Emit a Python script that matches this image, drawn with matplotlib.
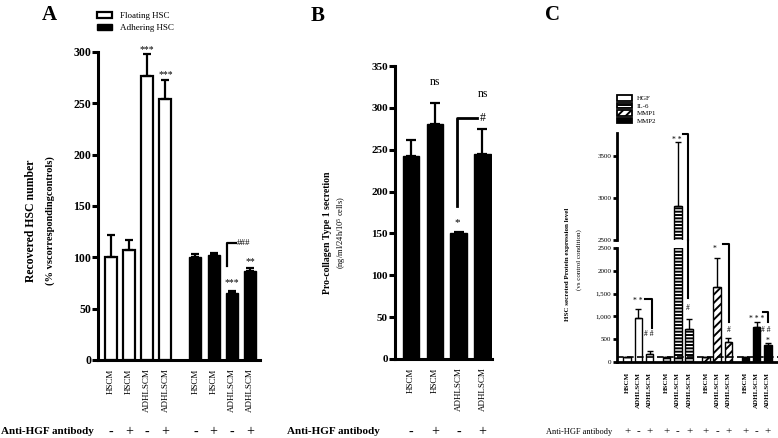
import numpy as np
import matplotlib
matplotlib.use('Agg')
import matplotlib.pyplot as plt
import matplotlib.patches as mpatches
from matplotlib.transforms import blended_transform_factory as btf

plt.rcParams['font.family'] = ['Liberation Serif', 'DejaVu Serif']
plt.rcParams['mathtext.default'] = 'regular'
plt.rcParams['hatch.linewidth'] = 1.4

# ---------------- data ----------------
# Panel A
a_labels = ['HSCM', 'HSCM', 'ADHLSCM', 'ADHLSCM']
a_signs = ['-', '+', '-', '+']
a_floating = [100, 107, 277, 254]
a_floating_err = [22, 10, 21, 19]
a_adhering = [100, 102, 65, 87]
a_adhering_err = [3, 2, 2.5, 2.5]
a_series = ['Floating HSC', 'Adhering HSC']

# Panel B
b_labels = ['HSCM', 'HSCM', 'ADHLSCM', 'ADHLSCM']
b_signs = ['-', '+', '-', '+']
b_values = [242, 281, 150, 245]
b_err = [20, 25, 1.5, 30]

# Panel C
c_labels = ['HSCM', 'ADHLSCM', 'ADHLSCM']
c_signs = ['+', '-', '+']
c_series = ['HGF', 'IL-6', 'MMP1', 'MMP2']
c_hgf = [100, 975, 170]
c_hgf_err = [20, 185, 80]
c_il6 = [100, 2900, 727]
c_il6_err = [20, 767, 220]
c_mmp1 = [100, 1652, 440]
c_mmp1_err = [20, 618, 88]
c_mmp2 = [100, 770, 370]
c_mmp2_err = [15, 110, 45]

# ---------------- figure ----------------
W, H = 778, 438
fig = plt.figure(figsize=(W / 100, H / 100), dpi=100)


def px_axes(x0, y0, x1, y1):
    return fig.add_axes([x0 / W, 1 - y1 / H, (x1 - x0) / W, (y1 - y0) / H])


def style(ax, lw=2.2, tl=4):
    for s in ['top', 'right']:
        ax.spines[s].set_visible(False)
    for s in ['left', 'bottom']:
        ax.spines[s].set_linewidth(lw)
    ax.tick_params(axis='y', direction='out', width=lw, length=tl)
    ax.tick_params(axis='x', length=0)


def signs_row(ax, xs, signs, fs=10, y=432):
    tr = btf(ax.transData, fig.transFigure)
    for x, s in zip(xs, signs):
        fig.text(x, 1 - y / H, s, transform=tr, ha='center', va='center', fontsize=fs)


up = lambda e: [np.zeros(len(e)), e]

# ---------------- Panel A ----------------
axA = px_axes(98, 52, 260, 360)
style(axA)
xa1 = np.arange(4)
xa2 = np.arange(4) + 4.65
ekA = dict(elinewidth=1.6, capsize=3.2, capthick=1.6, ecolor='black')
axA.bar(xa1, a_floating, 0.66, color='white', edgecolor='black', linewidth=1.6,
        yerr=up(a_floating_err), error_kw=ekA, label=a_series[0])
axA.bar(xa2, a_adhering, 0.66, color='black', edgecolor='black', linewidth=1.0,
        yerr=up(a_adhering_err), error_kw=ekA, label=a_series[1])
axA.set_xlim(-0.71, 8.2)
axA.set_ylim(0, 300)
axA.set_yticks(np.arange(0, 301, 50))
axA.tick_params(axis='y', labelsize=8.5, pad=1)
for t in axA.get_yticklabels():
    t.set_fontweight('bold')
axA.set_xticks(np.r_[xa1, xa2], a_labels + a_labels, rotation=90, fontsize=6.5)
axA.tick_params(axis='x', pad=6)
signs_row(axA, np.r_[xa1, xa2], a_signs + a_signs)
axA.text(2, 299.5, '***', ha='center', va='baseline', fontsize=7)
axA.text(3, 275.5, '***', ha='center', va='baseline', fontsize=7)
axA.text(xa2[2], 72.5, '***', ha='center', va='baseline', fontsize=7)
axA.text(xa2[3], 93.5, '**', ha='center', va='baseline', fontsize=7)
axA.plot([6.40, 6.40, 6.89], [92, 114, 114], color='black', lw=1.6, clip_on=False)
axA.text(6.93, 114, '###', ha='left', va='center', fontsize=6.5)
axA.legend(handles=[mpatches.Patch(facecolor='white', edgecolor='black', linewidth=1.6),
                    mpatches.Patch(facecolor='black', edgecolor='black')],
           labels=a_series, loc='upper left', bbox_to_anchor=(97 / W, 1 - 12 / H),
           bbox_transform=fig.transFigure, frameon=False, fontsize=6.5, borderpad=0,
           handlelength=1.7, handleheight=0.6, labelspacing=0.45, handletextpad=0.9,
           borderaxespad=0)
fig.text(31 / W, 1 - 221 / H, 'Recovered HSC number', rotation=90, ha='center', va='center',
         fontsize=8.5, fontweight='bold')
fig.text(50 / W, 1 - 221 / H, '(% vscorrespondingcontrols)', rotation=90, ha='center',
         va='center', fontsize=7.5, fontweight='bold')
fig.text(1 / W, 1 - 432 / H, 'Anti-HGF antibody', ha='left', va='center', fontsize=8,
         fontweight='bold')
fig.text(49 / W, 1 - 15 / H, 'A', ha='center', va='center', fontsize=15, fontweight='bold')

# ---------------- Panel B ----------------
axB = px_axes(395, 66, 492, 359)
style(axB)
xb = np.arange(4)
axB.bar(xb, b_values, 0.69, color='black', edgecolor='black',
        yerr=up(b_err), error_kw=dict(elinewidth=1.6, capsize=3.5, capthick=1.6))
axB.set_xlim(-0.67, 3.4)
axB.set_ylim(0, 350)
axB.set_yticks(np.arange(0, 351, 50))
axB.tick_params(axis='y', labelsize=8, pad=1)
for t in axB.get_yticklabels():
    t.set_fontweight('bold')
axB.set_xticks(xb, b_labels, rotation=90, fontsize=6.5)
axB.tick_params(axis='x', pad=6)
signs_row(axB, xb, b_signs)
axB.text(1, 327, 'ns', ha='center', va='baseline', fontsize=8.5)
axB.text(3, 313, 'ns', ha='center', va='baseline', fontsize=8.5)
axB.text(1.93, 160, '*', ha='center', va='baseline', fontsize=8)
axB.plot([1.93, 1.93, 2.77], [183, 288, 288], color='black', lw=2, clip_on=False)
axB.text(3.0, 288, '#', ha='center', va='center', fontsize=8.5)
fig.text(327 / W, 1 - 233 / H, 'Pro-collagen Type 1 secretion', rotation=90, ha='center',
         va='center', fontsize=7, fontweight='bold')
fig.text(341 / W, 1 - 233 / H, '(ng/ml/24h/10$^{5}$ cells)', rotation=90, ha='center',
         va='center', fontsize=6)
fig.text(380 / W, 1 - 432 / H, 'Anti-HGF antibody', ha='right', va='center', fontsize=8,
         fontweight='bold')
fig.text(318 / W, 1 - 16 / H, 'B', ha='center', va='center', fontsize=15, fontweight='bold')

# ---------------- Panel C ----------------
axCu = px_axes(617, 133, 778, 240)
axCl = px_axes(617, 248, 778, 362)
style(axCl, lw=2.0, tl=3)
style(axCu, lw=2.0, tl=3)
axCu.spines['bottom'].set_visible(False)
axCu.set_xticks([])

vals = [c_hgf, c_il6, c_mmp1, c_mmp2]
errs = [c_hgf_err, c_il6_err, c_mmp1_err, c_mmp2_err]
fcs = ['white', 'white', 'white', 'black']
hatches = [None, '-----', '////', None]
xc_all = []
for g in range(4):
    xs = np.arange(3) + g * 3.5
    xc_all.extend(xs)
    for ax in (axCl, axCu):
        ax.bar(xs, vals[g], 0.66, color=fcs[g], edgecolor='black', linewidth=1.0,
               hatch=hatches[g], yerr=up(errs[g]),
               error_kw=dict(elinewidth=1.0, capsize=2, capthick=1.0))
for ax in (axCl, axCu):
    ax.set_xlim(-0.9, 13.4)
axCl.set_ylim(0, 2500)
axCu.set_ylim(2500, 3774)
axCl.set_yticks([0, 500, 1000, 1500, 2000, 2500], ['0', '500', '1,000', '1,500', '2000', '2500'])
axCu.set_yticks([2500, 3000, 3500], ['2500', '3000', '3500'])
for ax in (axCl, axCu):
    ax.tick_params(axis='y', labelsize=5, pad=1)
axCl.axhline(100, color='black', lw=1.2, ls=(0, (4, 2)), zorder=5)
axCl.set_xticks(xc_all, c_labels * 4, rotation=90, fontsize=5, fontweight='bold')
axCl.tick_params(axis='x', pad=7)
signs_row(axCl, xc_all, c_signs * 4, fs=8)

fs = 5.5
# HGF
axCl.text(0.93, 1286, '* *', ha='center', va='baseline', fontsize=fs)
axCl.plot([1.6, 2.2, 2.2], [1388, 1388, 750], color='black', lw=1.5, clip_on=False)
axCl.text(1.95, 617, '# #', ha='center', va='center', fontsize=fs)
# IL-6
axCu.text(4.4, 3671, '* *', ha='center', va='baseline', fontsize=fs)
axCu.plot([4.96, 5.4, 5.4], [3762, 3762, 2500], color='black', lw=1.5, clip_on=False)
axCl.plot([5.4, 5.4], [2676, 1410], color='black', lw=1.5, clip_on=False)
axCl.text(5.4, 1190, '#', ha='center', va='center', fontsize=fs)
# MMP1
axCl.text(7.8, 2430, '*', ha='center', va='baseline', fontsize=fs, clip_on=False)
axCl.plot([8.5, 9.05, 9.05], [2577, 2577, 880], color='black', lw=1.5, clip_on=False)
axCl.text(9.05, 705, '#', ha='center', va='center', fontsize=fs)
# MMP2
axCl.text(11.5, 889, '* * *', ha='center', va='baseline', fontsize=fs)
axCl.plot([12.1, 12.55, 12.55], [1100, 1100, 880], color='black', lw=1.5, clip_on=False)
axCl.text(12.3, 705, '# #', ha='center', va='center', fontsize=fs)
axCl.text(12.5, 420, '*', ha='center', va='baseline', fontsize=fs)

axCu.legend(handles=[mpatches.Patch(facecolor=fcs[i], edgecolor='black', linewidth=1.3,
                                    hatch=hatches[i]) for i in range(4)],
            labels=c_series, loc='upper left', bbox_to_anchor=(617 / W, 1 - 95 / H),
            bbox_transform=fig.transFigure, frameon=False, fontsize=5, borderpad=0,
            handlelength=2.1, handleheight=0.85, labelspacing=0.2, handletextpad=0.7,
            borderaxespad=0)
fig.text(568 / W, 1 - 264 / H, 'HSC secreted Protein expression level', rotation=90,
         ha='center', va='center', fontsize=5, fontweight='bold')
fig.text(579 / W, 1 - 260 / H, '(vs control condition)', rotation=90, ha='center',
         va='center', fontsize=5)
fig.text(612 / W, 1 - 432 / H, 'Anti-HGF antibody', ha='right', va='center', fontsize=6)
fig.text(553 / W, 1 - 15 / H, 'C', ha='center', va='center', fontsize=15, fontweight='bold')

fig.savefig('out.png', dpi=100)
